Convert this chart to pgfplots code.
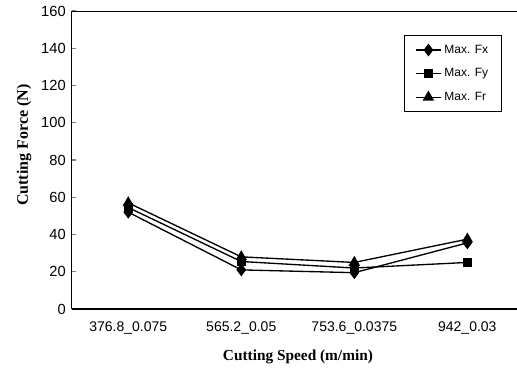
\documentclass[border=0pt]{standalone}
\usepackage{pgfplots}
\pgfplotsset{compat=1.18}
\usepackage{fontspec}
\setmainfont{Liberation Serif}
\newfontfamily\arial{Liberation Sans}
\begin{document}
\begin{tikzpicture}
\useasboundingbox (0,0) rectangle (387.75pt,276.75pt);
\begin{axis}[
  at={(53.8pt,45pt)}, anchor=south west,
  scale only axis, width=334pt, height=223.5pt,
  xmin=-0.5, xmax=3.44, ymin=0, ymax=160,
  axis x line*=bottom, axis y line*=left,
  axis line style={line width=0.8pt, -},
  xtick={0,1,2,3},
  xticklabels={376.8\_0.075,565.2\_0.05,753.6\_0.0375,942\_0.03},
  x tick style={draw=none},
  extra x ticks={0.5,1.5,2.5}, extra x tick labels={},
  extra x tick style={tick style={draw=black, line width=0.8pt}, major tick length=4.5pt, tick align=inside},
  ytick={0,20,...,160},
  y tick style={line width=0.8pt}, tick align=inside, major tick length=3.5pt,
  /pgf/number format/assume math mode=true,
  x tick label style={font=\arial\fontsize{10.5}{12}\selectfont, yshift=-6pt},
  y tick label style={font=\arial\fontsize{11}{13}\selectfont, xshift=-1pt},
  xlabel={Cutting Speed (m/min)},
  ylabel={Cutting Force (N)},
  xlabel style={font=\bfseries\fontsize{11.5}{13}\selectfont, at={(axis description cs:0.508,-0.161)}, anchor=center},
  ylabel style={font=\bfseries\fontsize{12}{14}\selectfont, at={(axis description cs:-0.107,0.55)}, anchor=center},
  legend style={at={(0.966,0.919)}, anchor=north east, draw=black, line width=0.6pt,
    font=\arial\fontsize{9}{11}\selectfont, row sep=6pt, inner xsep=8pt, inner ysep=5pt},
  legend cell align=left,
  legend image code/.code={\draw[mark repeat=2,mark phase=2] plot coordinates {(0pt,0pt) (9.5pt,0pt) (19pt,0pt)};},
  every axis plot/.append style={black, line width=1pt, mark options={solid, fill=black}},
]
\addplot[mark=diamond*, mark size=4pt] coordinates {(0,52) (1,21) (2,19.5) (3,35.5)};
\addlegendentry{Max. Fx}
\addplot[mark=square*, mark size=3pt] coordinates {(0,54.5) (1,25.5) (2,22) (3,25)};
\addlegendentry{Max. Fy}
\addplot[mark=triangle*, mark size=4pt] coordinates {(0,57) (1,28) (2,25) (3,37.5)};
\addlegendentry{Max. Fr}
\draw[line width=0.8pt] (rel axis cs:0,1) -- (rel axis cs:1,1);
\end{axis}
\end{tikzpicture}
\end{document}
